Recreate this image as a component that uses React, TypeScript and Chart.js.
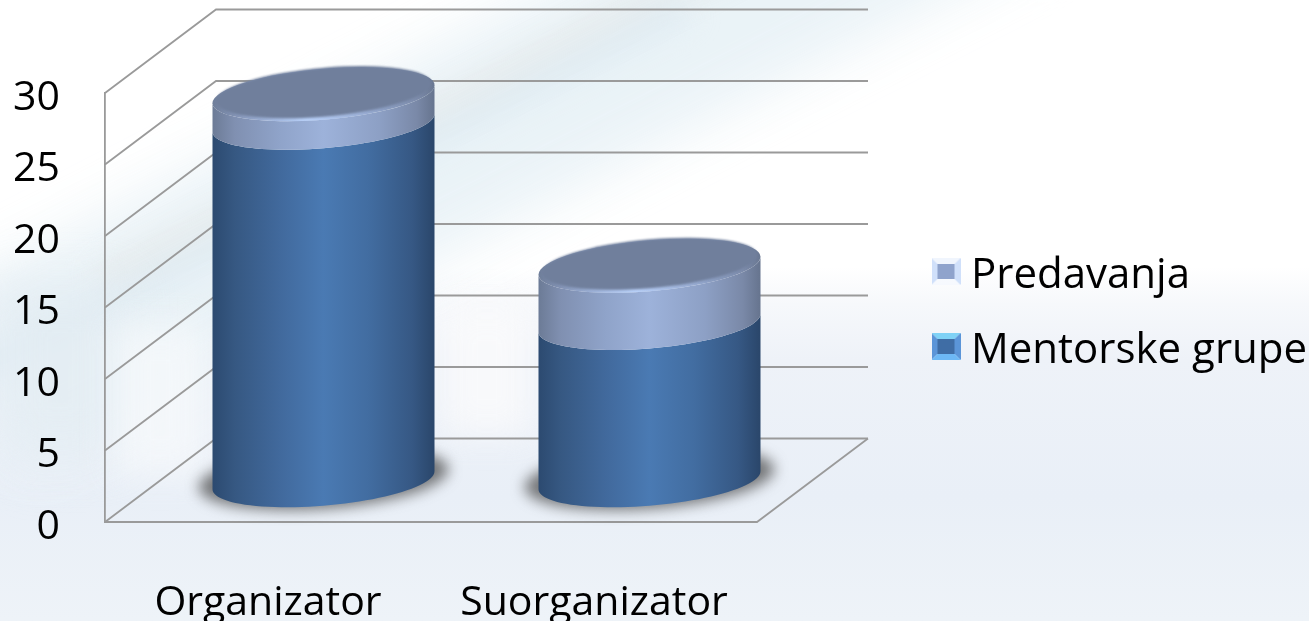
import React, { useEffect, useRef } from "react";
import { Chart, registerables } from "chart.js";

Chart.register(...registerables);

const categories = ["Organizator", "Suorganizator"];
const mentorskeGrupe = [25, 11];
const predavanja = [2, 4];
const yMax = 30;
const yStep = 5;

const FONT = { family: "Open Sans", size: 41, lineHeight: 1.2 };
const LEGEND_FONT = { family: "Open Sans", size: 42, lineHeight: 1.2 };
const DEPTH_X = 111;
const DEPTH_Y = 83.5;
const GRID = "#9a9a9a";
const TILT = 9;
const FACE_RY = 25.5;

const makeMarker = (top: string, side: string, bottom: string, center: string) => {
  const c = document.createElement("canvas");
  c.width = 29;
  c.height = 37;
  const g = c.getContext("2d")!;
  const i = 6;
  const poly = (color: string, pts: number[][]) => {
    g.fillStyle = color;
    g.beginPath();
    pts.forEach((p, n) => (n ? g.lineTo(p[0], p[1]) : g.moveTo(p[0], p[1])));
    g.closePath();
    g.fill();
  };
  poly(top, [[0, 0], [29, 0], [29 - i, i], [i, i]]);
  poly(side, [[0, 0], [i, i], [i, 27 - i], [0, 27]]);
  poly(side, [[29, 0], [29 - i, i], [29 - i, 27 - i], [29, 27]]);
  poly(bottom, [[0, 27], [i, 27 - i], [29 - i, 27 - i], [29, 27]]);
  g.fillStyle = center;
  g.fillRect(i, i, 29 - 2 * i, 27 - 2 * i);
  return c;
};

const hGrad = (ctx: CanvasRenderingContext2D, x0: number, x1: number, stops: [number, string][]) => {
  const g = ctx.createLinearGradient(x0, 0, x1, 0);
  stops.forEach(([o, c]) => g.addColorStop(o, c));
  return g;
};

const BODY_STOPS: [number, string][] = [
  [0, "#2c4a70"], [0.1, "#365882"], [0.3, "#41699c"], [0.5, "#4a7ab3"],
  [0.7, "#426da1"], [0.9, "#365884"], [1, "#2a466a"],
];
const BAND_STOPS: [number, string][] = [
  [0, "#6c7b96"], [0.1, "#8090b1"], [0.3, "#8fa3c9"], [0.5, "#9db2da"],
  [0.75, "#8da0c5"], [0.92, "#7a89a8"], [1, "#66748e"],
];

const cylinderPlugin = {
  id: "cylinder",
  beforeDraw(chart: any) {
    const lg = chart.legend;
    lg.left = 909;
    lg.top = 222.5;
    lg.right = 1309;
    lg.bottom = 621;
    lg.width = 400;
    lg.height = 398.5;
  },
  beforeDatasetsDraw(chart: any) {
    const { ctx, scales } = chart;
    const x = scales.x;
    const y = scales.y;
    ctx.save();
    ctx.strokeStyle = GRID;
    ctx.lineWidth = 1.8;
    const wallX = x.left + DEPTH_X;
    const wallR = x.right + DEPTH_X;
    y.ticks.forEach((t: any) => {
      const py = y.getPixelForValue(t.value);
      ctx.beginPath();
      ctx.moveTo(x.left, py);
      ctx.lineTo(wallX, py - DEPTH_Y);
      ctx.lineTo(wallR, py - DEPTH_Y);
      ctx.stroke();
    });
    const y0 = y.getPixelForValue(0);
    ctx.beginPath();
    ctx.moveTo(x.left, y0);
    ctx.lineTo(x.right, y0);
    ctx.lineTo(wallR, y0 - DEPTH_Y);
    ctx.stroke();

    const lower = chart.getDatasetMeta(0).data;
    const upper = chart.getDatasetMeta(1).data;
    lower.forEach((el: any, i: number) => {
      const up = upper[i];
      const cx = el.x + DEPTH_X / 2;
      const rx = el.width / 2;
      const dy = -DEPTH_Y / 2;
      const yBase = el.base + dy;
      const yMid = el.y + dy;
      const yTop = up.y + dy;
      const pt = (cy: number, t: number): [number, number] => [
        cx + rx * Math.cos(t),
        cy - TILT * Math.cos(t) + FACE_RY * Math.sin(t),
      ];
      const face = (cxx: number, cy: number, rxx: number, ryy: number, tilt: number) => {
        ctx.save();
        ctx.transform(1, -tilt / rxx, 0, 1, cxx, cy);
        ctx.beginPath();
        ctx.ellipse(0, 0, rxx, ryy, 0, 0, Math.PI * 2);
        ctx.restore();
      };
      const segment = (cyTop: number, cyBot: number) => {
        ctx.beginPath();
        for (let s = 0; s <= 48; s++) {
          const p = pt(cyTop, Math.PI - (Math.PI * s) / 48);
          s ? ctx.lineTo(p[0], p[1]) : ctx.moveTo(p[0], p[1]);
        }
        for (let s = 0; s <= 48; s++) {
          const p = pt(cyBot, (Math.PI * s) / 48);
          ctx.lineTo(p[0], p[1]);
        }
        ctx.closePath();
      };

      // floor shadow
      ctx.save();
      ctx.filter = "blur(7px)";
      ctx.fillStyle = "rgba(70,70,70,0.72)";
      face(cx, yBase - 2, rx + 14, FACE_RY + 5, TILT);
      ctx.fill();
      ctx.restore();

      // Mentorske grupe
      ctx.fillStyle = hGrad(ctx, cx - rx, cx + rx, BODY_STOPS);
      segment(yMid, yBase);
      ctx.fill();

      // Predavanja
      ctx.fillStyle = hGrad(ctx, cx - rx, cx + rx, BAND_STOPS);
      segment(yTop, yMid);
      ctx.fill();
      face(cx, yTop, rx, FACE_RY, TILT);
      ctx.fill();

      // highlight on the rim
      ctx.save();
      face(cx, yTop, rx, FACE_RY, TILT);
      ctx.clip();
      const hl = ctx.createRadialGradient(cx - 15, yTop + 27, 2, cx - 15, yTop + 27, 75);
      hl.addColorStop(0, "rgba(186,210,250,0.95)");
      hl.addColorStop(1, "rgba(170,190,230,0.05)");
      ctx.fillStyle = hl;
      ctx.fillRect(cx - rx, yTop - 40, rx * 2, 80);
      ctx.restore();

      // top face, slightly soft edged so that it melts into the rim
      ctx.save();
      ctx.filter = "blur(1px)";
      ctx.fillStyle = "#707f9c";
      face(cx, yTop - 2, rx - 3.5, FACE_RY - 1, TILT);
      ctx.fill();
      ctx.restore();
    });
    ctx.restore();
    return false;
  },
};

const band = (cx: number, cy: number, w: number, h: number, color: string, blur: number, opacity: number, deg = -27): React.CSSProperties => ({
  position: "absolute",
  left: cx - w / 2,
  top: cy - h / 2,
  width: w,
  height: h,
  background: color,
  filter: `blur(${blur}px)`,
  opacity,
  transform: `rotate(${deg}deg)`,
});

export default function App() {
  const ref = useRef<HTMLCanvasElement>(null);
  useEffect(() => {
    const markerLower = makeMarker("#7fd2f6", "#5b95d8", "#6db8f5", "#3f6da5");
    const markerUpper = makeMarker("rgba(225,235,252,0.5)", "#d0e0fa", "rgba(240,245,255,0.4)", "#8fa3cc");
    const chart = new Chart(ref.current!, {
      type: "bar",
      data: {
        labels: categories,
        datasets: [
          { label: "Mentorske grupe", data: mentorskeGrupe, backgroundColor: "#4a7ab3", pointStyle: markerLower as any },
          { label: "Predavanja", data: predavanja, backgroundColor: "#9db2da", pointStyle: markerUpper as any },
        ],
      },
      options: {
        responsive: false,
        animation: false,
        categoryPercentage: 1,
        barPercentage: 0.681,
        layout: { padding: { left: 0, right: 552, top: 93, bottom: 0 } },
        scales: {
          x: {
            stacked: true,
            grid: { display: false, drawTicks: false },
            border: { display: false },
            ticks: { font: FONT, color: "#000", padding: 57, maxRotation: 0 },
            afterFit: (s: any) => { s.height = 99; },
          },
          y: {
            stacked: true,
            min: 0,
            max: yMax,
            grid: { display: false, drawTicks: false },
            border: { display: true, color: GRID, width: 1.8 },
            ticks: { stepSize: yStep, font: FONT, color: "#000", padding: 45, labelOffset: 5 },
            afterFit: (s: any) => { s.width = 105; },
          },
        },
        plugins: {
          tooltip: { enabled: false },
          legend: {
            position: "chartArea",
            align: "start",
            reverse: true,
            labels: {
              font: LEGEND_FONT,
              color: "#000",
              usePointStyle: true,
              boxWidth: 8,
              padding: 33,
              generateLabels: (c: any) =>
                Chart.defaults.plugins.legend.labels.generateLabels(c).map((l: any, i: number) => ({
                  ...l,
                  pointStyle: c.data.datasets[l.datasetIndex ?? i].pointStyle,
                })),
            },
          },
        },
      } as any,
      plugins: [cylinderPlugin as any],
    });
    return () => chart.destroy();
  }, []);

  return (
    <div
      style={{
        position: "fixed",
        inset: 0,
        overflow: "hidden",
        background:
          "linear-gradient(to bottom, #ffffff 0%, #ffffff 43%, #f6f8fb 49%, #eef2f8 58%, #e9eff7 80%, #eef3f8 100%)",
      }}
    >
      <div style={band(500, 120, 1150, 190, "#e7f1f6", 28, 0.85)} />
      <div style={band(500, 80, 900, 34, "#e6eaea", 14, 0.7)} />
      <div style={band(330, 190, 800, 30, "#d9e8f2", 14, 0.5)} />
      <div style={band(60, 370, 130, 180, "#e3ecf2", 24, 0.6, 0)} />
      <div style={band(487, 370, 90, 130, "#fbfbfc", 16, 0.8, 0)} />
      <div style={band(160, 400, 90, 150, "#f8fafc", 16, 0.7, 0)} />
      <canvas ref={ref} width={1309} height={621} style={{ position: "absolute", left: 0, top: 0, display: "block" }} />
    </div>
  );
}
